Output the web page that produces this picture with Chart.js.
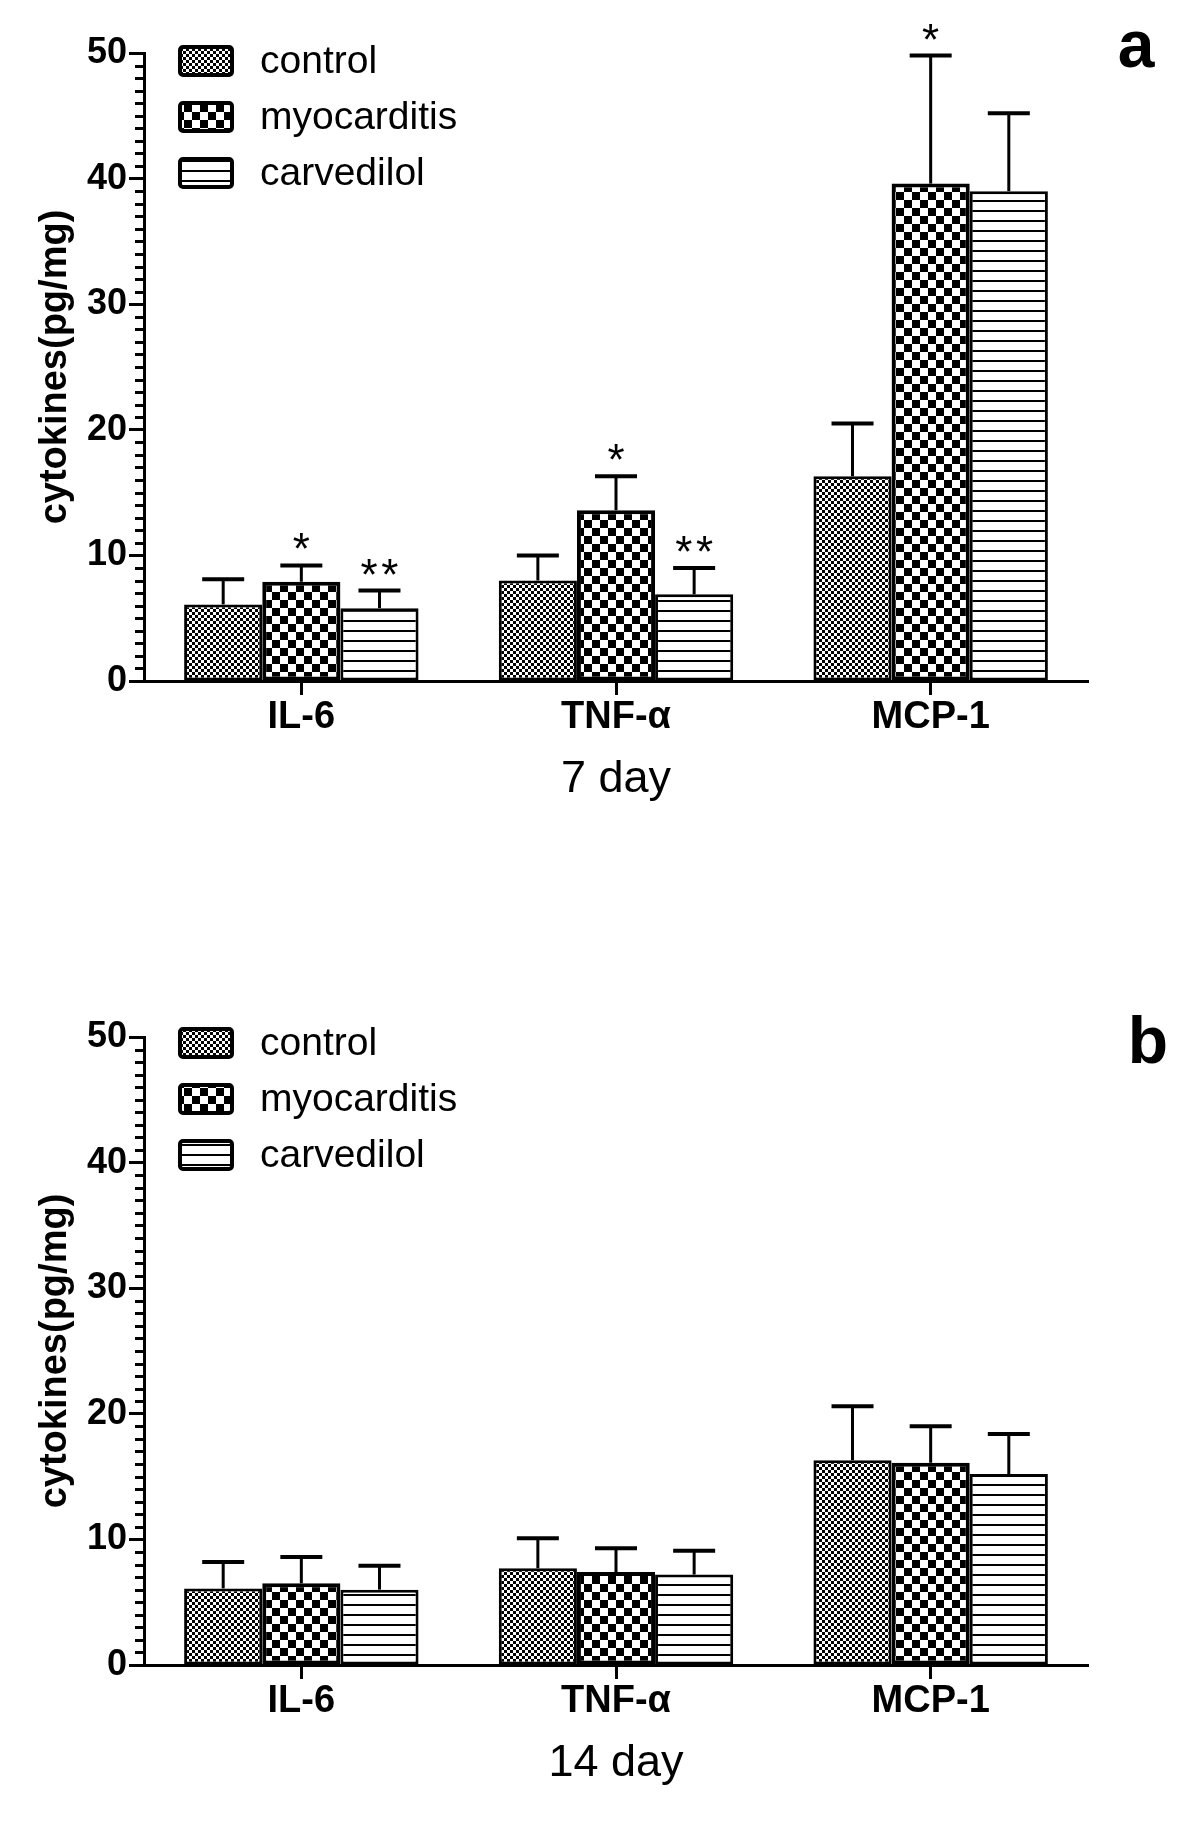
<!DOCTYPE html>
<html>
<head>
<meta charset="utf-8">
<script src="https://cdn.jsdelivr.net/npm/chart.js@4.4.1/dist/chart.umd.min.js"></script>
<style>
  html, body { margin: 0; padding: 0; background: #fff; }
  .panel { position: absolute; left: 0; width: 1200px; height: 850px; }
</style>
</head>
<body>
<div class="panel" style="top:0"><canvas id="chartA"></canvas></div>
<div class="panel" style="top:984px"><canvas id="chartB"></canvas></div>
<script>
'use strict';

const categories = ['IL-6', 'TNF-α', 'MCP-1'];
const seriesNames = ['control', 'myocarditis', 'carvedilol'];
const yTicks = [0, 10, 20, 30, 40, 50];

// 7 day (mean, SD)
const control7 = [6.1, 8.0, 16.3];
const control7Err = [2.0, 2.0, 4.2];
const myocarditis7 = [7.9, 13.6, 39.6];
const myocarditis7Err = [1.3, 2.7, 10.2];
const carvedilol7 = [5.8, 6.9, 39.0];
const carvedilol7Err = [1.4, 2.1, 6.2];
const control7Marks = ['', '', ''];
const myocarditis7Marks = ['*', '*', '*'];
const carvedilol7Marks = ['**', '**', ''];

// 14 day (mean, SD)
const control14 = [6.1, 7.7, 16.3];
const control14Err = [2.1, 2.4, 4.3];
const myocarditis14 = [6.5, 7.4, 16.1];
const myocarditis14Err = [2.1, 1.9, 2.9];
const carvedilol14 = [6.0, 7.2, 15.2];
const carvedilol14Err = [1.9, 1.9, 3.2];
const noMarks = ['', '', ''];

const FONT = '"Liberation Sans", Arial, sans-serif';
Chart.defaults.font.family = FONT;
Chart.defaults.color = '#000';

function makePattern(w, h, draw) {
  const c = document.createElement('canvas');
  c.width = w; c.height = h;
  const g = c.getContext('2d');
  g.fillStyle = '#fff';
  g.fillRect(0, 0, w, h);
  g.fillStyle = '#000';
  draw(g);
  return g.createPattern(c, 'repeat');
}

const patterns = [
  // fine checker
  makePattern(6, 6, g => { g.fillRect(0, 0, 3, 3); g.fillRect(3, 3, 3, 3); }),
  // coarse checker
  makePattern(16, 16, g => { g.fillRect(0, 0, 8, 8); g.fillRect(8, 8, 8, 8); }),
  // horizontal lines
  makePattern(4, 10, g => { g.fillRect(0, 0, 4, 2); })
];

const extras = {
  id: 'extras',
  afterDatasetsDraw(chart) {
    const ctx = chart.ctx;
    const y = chart.scales.y;
    ctx.save();
    ctx.strokeStyle = '#000';
    ctx.fillStyle = '#000';
    chart.data.datasets.forEach((ds, i) => {
      chart.getDatasetMeta(i).data.forEach((bar, j) => {
        const top = y.getPixelForValue(ds.data[j] + ds.errors[j]);
        ctx.lineWidth = 3;
        ctx.beginPath();
        ctx.moveTo(bar.x, bar.y);
        ctx.lineTo(bar.x, top);
        ctx.stroke();
        ctx.lineWidth = 4;
        ctx.beginPath();
        ctx.moveTo(bar.x - 21, top);
        ctx.lineTo(bar.x + 21, top);
        ctx.stroke();
        if (ds.marks[j]) {
          ctx.font = '44px ' + FONT;
          ctx.textAlign = 'center';
          ctx.textBaseline = 'alphabetic';
          ctx.fillText(ds.marks[j].split('').join('\u200A'), bar.x, top - 1);
        }
      });
    });
    ctx.restore();
  },
  afterDraw(chart, args, opts) {
    const ctx = chart.ctx;
    const y = chart.scales.y;
    const area = chart.chartArea;
    ctx.save();
    ctx.strokeStyle = '#000';
    ctx.fillStyle = '#000';

    // minor ticks
    ctx.lineWidth = 3;
    for (let v = y.min; v <= y.max; v += 1) {
      if (v % 10 === 0) continue;
      const py = Math.round(y.getPixelForValue(v)) + 0.5;
      ctx.beginPath();
      ctx.moveTo(y.right - 9, py);
      ctx.lineTo(y.right, py);
      ctx.stroke();
    }

    // legend
    chart.data.datasets.forEach((ds, i) => {
      const cy = area.top + opts.legendY + i * 56;
      const bx = area.left + 36, by = cy - 14;
      ctx.beginPath();
      ctx.roundRect(bx, by, 52, 28, 3);
      ctx.fillStyle = ds.backgroundColor;
      ctx.fill();
      ctx.lineWidth = 4;
      ctx.stroke();
      ctx.fillStyle = '#000';
      ctx.font = '39px ' + FONT;
      ctx.textAlign = 'left';
      ctx.textBaseline = 'middle';
      ctx.fillText(ds.label, area.left + 116, cy + 1);
    });

    // panel letter
    ctx.font = 'bold 66px ' + FONT;
    ctx.textAlign = 'center';
    ctx.textBaseline = 'alphabetic';
    ctx.fillText(opts.letter, opts.letterX, opts.letterY);
    ctx.restore();
  }
};

function makeChart(id, values, errors, marks, xLabel, extraOpts) {
  const ctx = document.getElementById(id).getContext('2d');
  return new Chart(ctx, {
    type: 'bar',
    data: {
      labels: categories,
      datasets: seriesNames.map((name, i) => ({
        label: name,
        data: values[i],
        errors: errors[i],
        marks: marks[i],
        backgroundColor: patterns[i],
        borderColor: '#000',
        borderWidth: i === 1 ? 4 : 3,
        borderSkipped: false,
        categoryPercentage: 0.745,
        barPercentage: 1
      }))
    },
    options: {
      responsive: true,
      maintainAspectRatio: false,
      animation: false,
      layout: { padding: { top: 53, right: 112, left: 0, bottom: 0 } },
      plugins: {
        legend: { display: false },
        tooltip: { enabled: false },
        extras: extraOpts
      },
      scales: {
        x: {
          offset: true,
          grid: { drawOnChartArea: false, offset: false, tickLength: 14, tickWidth: 3, tickColor: '#000' },
          border: { color: '#000', width: 3 },
          ticks: { color: '#000', font: { size: 38, weight: 'bold' }, padding: 0, maxRotation: 0 },
          title: { display: true, text: xLabel, color: '#000', font: { size: 45 }, padding: { top: 0, bottom: 43 } },
          afterFit: s => { s.height = 169; }
        },
        y: {
          min: 0,
          max: 50,
          afterBuildTicks: s => { s.ticks = yTicks.map(v => ({ value: v })); },
          ticks: { color: '#000', font: { size: 36, weight: 'bold' }, padding: 2 },
          grid: { drawOnChartArea: false, tickLength: 15, tickWidth: 3, tickColor: '#000' },
          border: { color: '#000', width: 3 },
          title: { display: true, text: 'cytokines(pg/mg)', color: '#000', font: { size: 38, weight: 'bold' }, padding: { top: 33, bottom: 0 } },
          afterFit: s => { s.width = 144; }
        }
      }
    },
    plugins: [extras]
  });
}

makeChart('chartA',
  [control7, myocarditis7, carvedilol7],
  [control7Err, myocarditis7Err, carvedilol7Err],
  [control7Marks, myocarditis7Marks, carvedilol7Marks],
  '7 day',
  { letter: 'a', letterX: 1136, letterY: 67, legendY: 8 });

makeChart('chartB',
  [control14, myocarditis14, carvedilol14],
  [control14Err, myocarditis14Err, carvedilol14Err],
  [noMarks, noMarks, noMarks],
  '14 day',
  { letter: 'b', letterX: 1148, letterY: 79, legendY: 6 });
</script>
</body>
</html>
